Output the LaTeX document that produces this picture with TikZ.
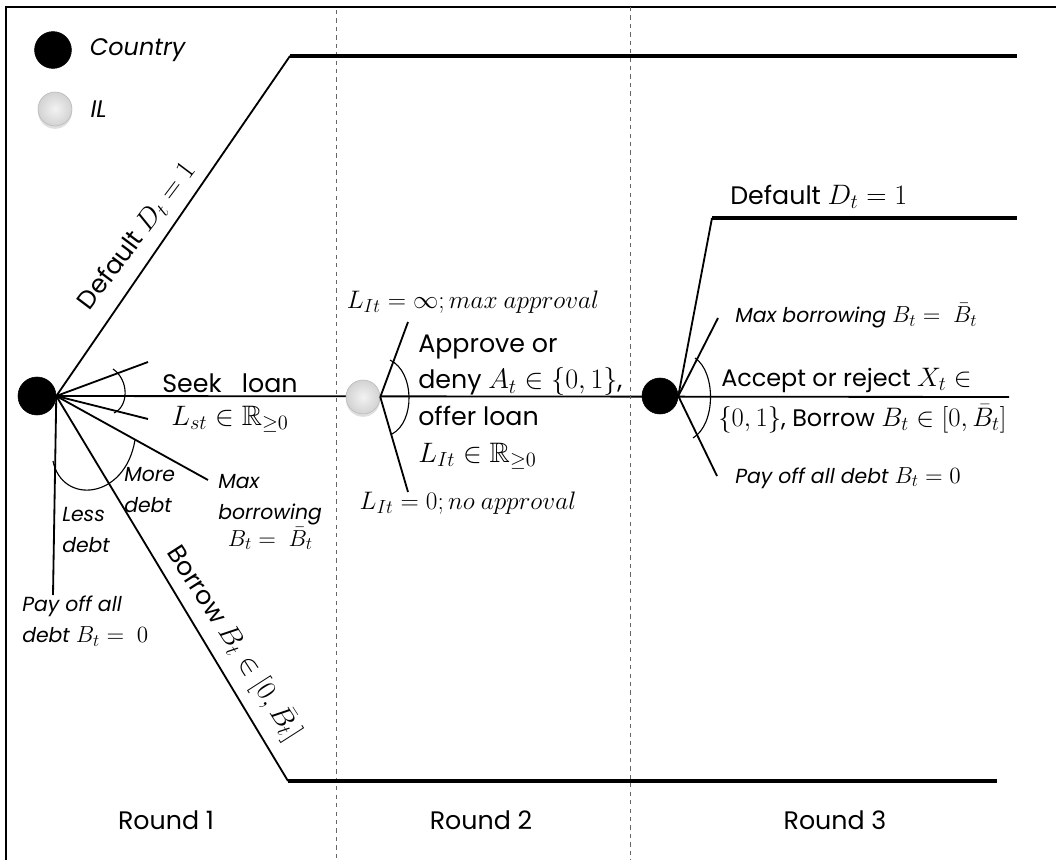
\RequirePackage{fix-cm}
\documentclass[tikz,border=0pt]{standalone}
\usepackage{amssymb, amsmath}
\usepackage{fontspec}
\setmainfont{Poppins}
\DeclareMathSizes{18}{20}{14.5}{11}
\DeclareMathSizes{17}{19}{14}{10.5}
\DeclareMathSizes{14.5}{16.5}{12.5}{10}
\DeclareMathSizes{16}{18}{13.5}{10.5}
\usetikzlibrary{calc, positioning, shadows, backgrounds}
\tikzstyle{vtx}=[inner sep=0pt, draw, shape=circle]
\tikzstyle{country}=[vtx, fill=black, minimum size=0.92cm]
\tikzstyle{il}=[vtx, draw=gray!55, inner color=gray!10, outer color=gray!35, minimum size=0.85cm, drop shadow={opacity=.25, shadow xshift=0pt, shadow yshift=-2pt}]
\tikzstyle{branch}=[line width=1.3pt]
\tikzstyle{payoff}=[line width=2.6pt]
\tikzstyle{fan}=[line width=0.8pt]
\tikzstyle{rnd}=[gray!80!black, dashed, line width=0.6pt]
\tikzstyle{lbl}=[inner sep=0pt, font=\fontsize{18}{26}\selectfont]
\tikzstyle{ilbl}=[inner sep=0pt, font=\fontsize{14.5}{22}\selectfont\itshape]
\tikzset{>=stealth}

\begin{document}
\begin{tikzpicture}[x=0.025cm, y=-0.025cm]
\useasboundingbox (0,0) rectangle (1056,860);
\draw[line width=0.8pt] (6,860) -- (6,7) -- (1056,7);
\draw[rnd] (336,10) -- (336,860);
\draw[rnd] (630,7) -- (630,860);

% legend
\node[country] (L1) at (53,50) {};
\node[il] (L2) at (55,109) {};
\node[ilbl, font=\fontsize{17}{20}\selectfont\itshape, right=0.45cm of L1] {Country};
\node[ilbl, font=\fontsize{17}{20}\selectfont\itshape, right=0.45cm of L2] {IL};

% players
\node[country, minimum size=0.95cm] (C1) at (37,396) {};
\node[il] (IL) at (363,397) {};
\node[country, minimum size=0.9cm] (C2) at (660,396) {};

\coordinate (D1) at (290,56);
\coordinate (D1e) at (1017,56);
\coordinate (B1) at (288,781);
\coordinate (B1e) at (997,781);
\coordinate (S1u) at (148,362);
\coordinate (S1d) at (148,419);
\coordinate (M1) at (208,480);
\coordinate (P1) at (53,595);
\coordinate (E3) at (1009,397);
\coordinate (A2u) at (408,322);
\coordinate (A2d) at (408,492);
\coordinate (D3) at (712,218);
\coordinate (D3e) at (1017,218);
\coordinate (M3) at (718,318);
\coordinate (P3) at (717,476);

\begin{scope}[on background layer]
\draw[branch] (C1.east) -- (E3);
\end{scope}

% round 1
\draw[branch] (C1.east) -- (D1);
\draw[payoff] (D1) -- (D1e);
\draw[branch] (C1.east) -- (B1);
\draw[payoff] (B1) -- (B1e);
\draw[branch] (C1.east) -- (S1u);
\draw[branch] (C1.east) -- (S1d);
\draw[branch] (C1.east) -- (M1);
\draw[branch] (C1.east |- C1.center) -- (P1);
\draw[fan] (113,369) .. controls (129,380) and (129,406) .. (114,413);
\draw[fan] (53,461) .. controls (62,505) and (125,500) .. (135,440);

% round 2
\draw[branch] (IL.east) -- (A2u);
\draw[branch] (IL.east) -- (A2d);
\draw[fan] (390,360) .. controls (415,372) and (415,422) .. (392,434);

% round 3
\draw[branch] (C2.east) -- (D3);
\draw[payoff] (D3) -- (D3e);
\draw[branch] (C2.east) -- (M3);
\draw[branch] (C2.east) -- (P3);
\draw[fan] (695,358) .. controls (716,372) and (716,424) .. (693,438);

% labels
\node[lbl, rotate=53] at (137,236) {Default $D_t = 1$};
\node[lbl, rotate=-57.3] at (234,643) {Borrow $B_t \in [0, \bar{B}_t]$};
\node[lbl] at (230,383) {Seek\ \ \ loan};
\node[lbl] at (230,419) {$L_{st} \in \mathbb{R}_{\geq 0}$};
\node[ilbl, align=left, anchor=west] at (124,490) {More\\debt};
\node[ilbl, align=left, anchor=west] at (62,530) {Less\\debt};
\node[ilbl, align=left, anchor=west] at (218,512) {Max\\borrowing\\[-3pt] \ \,$B_t = \ \bar{B}_t$};
\node[ilbl, align=left, anchor=west] at (22,621) {Pay off all\\debt $B_t = \ 0$};

\node[lbl, font=\fontsize{16}{20}\selectfont] at (473,302) {$L_{It} = \infty; max\ approval$};
\node[lbl, align=left, anchor=west] at (418,402) {Approve or\\deny $A_t \in \{0,1\}$,\\offer loan\\$L_{It} \in \mathbb{R}_{\geq 0}$};
\node[lbl, font=\fontsize{16}{20}\selectfont] at (468,503) {$L_{It} = 0; no\ approval$};

\node[lbl, anchor=west] at (730,197) {Default $D_t = 1$};
\node[ilbl, anchor=west] at (735,316) {Max borrowing $B_t = \ \bar{B}_t$};
\node[lbl, font=\fontsize{17}{20}\selectfont, anchor=west] at (721,380) {Accept or reject $X_t \in$};
\node[lbl, font=\fontsize{17}{20}\selectfont, anchor=west] at (718,419) {$\{0,1\}$, Borrow $B_t \in [0, \bar{B}_t]$};
\node[ilbl, anchor=west] at (735,478) {Pay off all debt $B_t = 0$};

\node[lbl] at (166,820) {Round 1};
\node[lbl] at (481,820) {Round 2};
\node[lbl] at (835,820) {Round 3};
\end{tikzpicture}
\end{document}
